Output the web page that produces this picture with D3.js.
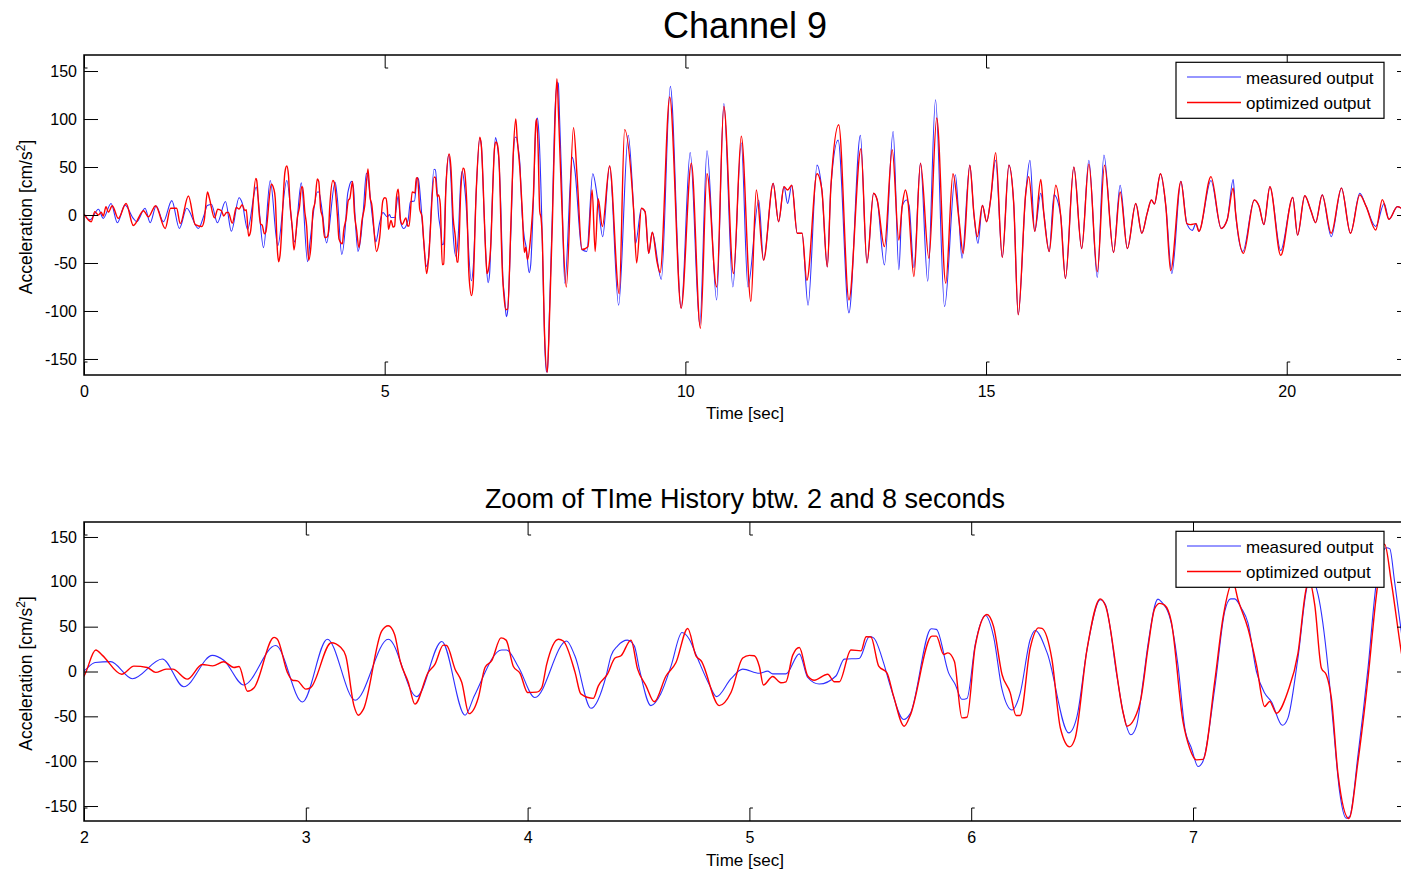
<!DOCTYPE html>
<html><head><meta charset="utf-8">
<script src="https://cdn.jsdelivr.net/npm/d3@7"></script>
<style>
body{margin:0;background:#fff}
text{font-family:"Liberation Sans",Arial,Helvetica,sans-serif;fill:#000}
</style>
</head><body>
<svg id="c" width="1401" height="873"></svg>
<script>
// ---- data: [time (s), acceleration (cm/s^2)] ----
const measured = [
[0,1],[0.1,-5],[0.24,6],[0.32,-3.5],[0.45,12],[0.555,-8],[0.68,10.4],[0.82,-3.5],[0.876,-7],[1.015,7],[1.1,-8],[1.2,9.4],[1.32,-7],[1.46,15],[1.586,-14],[1.708,7],[1.9,-14],
[2.0,0.7],[2.05,10],[2.12,11],[2.218,-8],[2.353,14],[2.45,-17],[2.579,18],[2.63,12.6],[2.72,-15],[2.864,29],[2.985,-34],[3.097,36],[3.222,-32],[3.372,36],[3.5,-28],[3.613,33.5],[3.718,-48.7],[3.76,-27],[3.883,24],[3.905,24],[3.96,4.5],[4.033,-29],[4.176,34],[4.213,17.5],[4.286,-41],[4.354,-5],[4.376,17.5],[4.406,28.6],[4.45,35],[4.481,28.6],[4.504,2.6],[4.556,-38],[4.6,-25],[4.647,6.3],[4.696,43.5],[4.729,36],[4.759,19],[4.82,-15],[4.852,-28],[4.917,-8],[4.97,2.6],[5.045,-2],[5.082,0.4],[5.105,-2.6],[5.165,-2.6],[5.225,19.7],[5.263,-6.7],[5.315,-14],[5.39,-5],[5.428,13.8],[5.495,14.5],[5.541,39],[5.56,37.5],[5.605,9.7],[5.635,-16],[5.696,-53.5],[5.725,-47],[5.82,47.6],[5.843,47],[5.898,-1.5],[5.928,-14.5],[5.958,-31],[5.981,-30],[6.018,30],[6.064,62.5],[6.101,39],[6.139,-20],[6.184,-43],[6.221,-24],[6.266,35.7],[6.289,45.7],[6.342,21],[6.44,-68.4],[6.477,-50],[6.522,24.5],[6.582,80],[6.605,74.7],[6.657,-5],[6.687,-48],[6.72,-70.6],[6.745,-61],[6.775,-11],[6.797,30],[6.842,80.7],[6.857,78],[6.902,54],[6.932,7.4],[6.963,-63],[6.993,-85.5],[7.023,-106],[7.045,-100],[7.098,-18.6],[7.143,67],[7.17,81],[7.188,81],[7.218,70.6],[7.248,54],[7.286,0],[7.323,-24],[7.353,-33.5],[7.403,-60],[7.428,-52],[7.473,15],[7.518,96.7],[7.541,101],[7.564,85.5],[7.609,3.7],[7.631,-56],[7.661,-134],[7.691,-163.6],[7.706,-162],[7.744,-93],[7.789,3.7],[7.827,100],[7.872,138],[7.887,137],[7.909,100],[7.939,44.6],
[7.995,-71],[8.12,60],[8.16,48],[8.28,-36],[8.36,-38],[8.46,43],[8.54,17],[8.625,-22.6],[8.74,51],[8.89,-94],[9.05,83],[9.14,5],[9.17,-30],[9.27,7],[9.33,3.5],[9.39,-40],[9.45,-18],[9.6,-67],[9.75,134],[9.93,-97],[10.08,65],[10.24,-114.6],[10.36,67],[10.52,-88.5],[10.64,116],[10.79,-75],[10.93,75],[11.04,-75],[11.22,15.6],[11.3,-47],[11.46,33],[11.55,-7],[11.64,29.5],[11.7,12],[11.77,31],[11.86,-19],[11.94,-19],[12.04,-94],[12.19,52],[12.27,26],[12.36,-54],[12.42,29.5],[12.54,78],[12.72,-102],[12.91,83],[13.02,-50],[13.13,22.6],[13.19,15.6],[13.31,-52],[13.455,87],[13.55,-57],[13.605,9],[13.676,15.6],[13.72,10],[13.8,-55],[13.91,54],[14.03,-69],[14.16,120],[14.31,-95.5],[14.49,42],[14.55,-5],[14.6,-45],[14.73,52],[14.8,0],[14.865,-29.5],[14.94,10],[15.01,-7],[15.075,15.6],[15.16,57],[15.27,-44],[15.38,52],[15.46,12],[15.535,-104],[15.66,22.6],[15.73,57],[15.81,-17],[15.91,22.6],[15.96,2],[16.05,-38],[16.13,21],[16.24,0],[16.32,-66],[16.46,50],[16.59,-35],[16.71,57],[16.85,-65],[16.96,62.5],[17.12,-39],[17.23,31],[17.35,-35],[17.49,12],[17.59,-19],[17.68,2],[17.75,15.6],[17.8,11.5],[17.9,43],[17.99,9],[18.09,-61],[18.24,35],[18.34,-9],[18.43,-16],[18.49,-9],[18.54,-17],[18.74,36],[18.91,-14],[19.01,-5],[19.11,37],[19.15,2],[19.27,-38],[19.46,15.6],[19.54,9],[19.62,-10],[19.72,29.5],[19.9,-37],[20.1,18.4],[20.18,-21],[20.3,20],[20.4,5],[20.48,-8],[20.59,21],[20.74,-22.6],[20.91,28],[21.06,-19],[21.215,22.6],[21.32,9],[21.48,-12],[21.62,12],[21.7,-4.5],[21.84,8.7],[21.95,5]
];
const optimized = [
[0,1],[0.07,-5],[0.12,-7],[0.18,3.5],[0.24,0],[0.285,3],[0.32,-1],[0.366,8.7],[0.405,3],[0.47,9.7],[0.57,-3.5],[0.7,12],[0.82,-11],[0.99,4.5],[1.07,-2],[1.19,9.7],[1.35,-14],[1.44,7],[1.54,7],[1.6,-9],[1.736,19.8],[1.85,-10],[1.96,-12],
[2.0,-5],[2.053,24],[2.083,18],[2.17,-3],[2.225,6],[2.285,4.5],[2.323,-1],[2.37,2.6],[2.4,2.6],[2.466,-8.5],[2.533,7.8],[2.58,6.3],[2.63,10.8],[2.676,4.5],[2.699,5.6],[2.737,-22],[2.767,-18],[2.857,38],[2.872,36],[2.917,-1],[2.94,-9.7],[2.962,-10.4],[3.0,-19.7],[3.022,-18],[3.115,32],[3.157,27],[3.18,17.5],[3.217,-38],[3.237,-48.7],[3.26,-42],[3.342,45],[3.372,51],[3.4,41.6],[3.425,12],[3.462,-12],[3.492,-36.4],[3.552,-1],[3.582,8],[3.62,29.4],[3.635,29],[3.673,2.6],[3.703,-12],[3.736,-47],[3.778,-29],[3.808,4.5],[3.838,12],[3.88,37.5],[3.903,35],[3.936,5.6],[3.966,-2],[4.0,-23.4],[4.041,-23],[4.064,-17.8],[4.086,8],[4.139,36],[4.161,34],[4.214,-1],[4.24,-25],[4.296,-30],[4.319,-16],[4.36,-3],[4.394,15],[4.421,17.5],[4.466,35],[4.496,2.6],[4.534,-16],[4.571,-33.8],[4.624,-5],[4.669,10],[4.722,48],[4.759,17.5],[4.782,12],[4.864,-38],[4.917,-23.4],[4.97,15],[5.0,18],[5.022,17.5],[5.045,5.6],[5.063,-15],[5.105,-5.6],[5.142,-12.6],[5.165,-11.5],[5.195,18],[5.225,26.8],[5.263,-5],[5.293,-9.7],[5.353,-3],[5.383,-11.5],[5.405,-11.5],[5.458,24],[5.503,23],[5.526,38.7],[5.548,38.5],[5.583,6],[5.62,-1.5],[5.65,-27.5],[5.698,-61],[5.725,-49],[5.823,39.4],[5.843,39.4],[5.876,19],[5.895,20.8],[5.924,11.5],[5.958,-51.7],[5.981,-51],[6.018,28],[6.071,63.6],[6.101,50],[6.139,-3.3],[6.176,-23.8],[6.202,-49],[6.221,-49],[6.266,26],[6.304,48.7],[6.319,48],[6.364,13.4],[6.402,-63],[6.444,-84],[6.469,-74],[6.522,24.5],[6.582,81],[6.605,73.6],[6.687,-48],[6.702,-61],[6.735,-53],[6.767,-28],[6.797,26],[6.827,70],[6.85,76],[6.872,74],[6.902,56],[6.955,-56],[6.985,-85.5],[7.015,-98.5],[7.045,-98],[7.098,-11],[7.135,59.5],[7.18,100],[7.203,80],[7.248,48],[7.286,7.4],[7.323,-39],[7.346,-33.5],[7.376,-46.5],[7.428,-22],[7.473,20],[7.511,93],[7.526,100],[7.549,74],[7.579,3.7],[7.601,-3.7],[7.624,-30],[7.654,-115],[7.703,-164],[7.744,-100],[7.789,-7.4],[7.827,85.5],[7.864,142],[7.894,100],[7.939,22],
[8.02,-75],[8.14,91],[8.2,40],[8.28,-36],[8.38,-33],[8.45,26],[8.5,-38],[8.55,17],[8.62,-12],[8.74,51],[8.9,-82],[8.99,89],[9.14,5],[9.19,-50],[9.27,7],[9.33,3.5],[9.39,-40],[9.45,-18],[9.53,-49],[9.58,-60],[9.74,123],[9.93,-97],[10.1,54],[10.25,-118],[10.36,43],[10.52,-75],[10.64,113],[10.8,-61],[10.93,82],[11.09,-90],[11.18,26],[11.3,-47],[11.46,33],[11.55,-7],[11.64,29.5],[11.7,26],[11.77,31],[11.86,-19],[11.94,-19],[12.02,-68],[12.19,43],[12.27,26],[12.36,-54],[12.42,29.5],[12.55,94],[12.72,-88.5],[12.92,69],[13.02,-50],[13.13,22.6],[13.19,15.6],[13.31,-33],[13.44,68],[13.55,-26],[13.605,9],[13.66,26],[13.7,15],[13.8,-64],[13.91,54],[14.05,-45],[14.18,101],[14.33,-71],[14.45,43],[14.55,-5],[14.62,-40],[14.73,52],[14.8,0],[14.855,-22.6],[14.94,10],[15.01,-7],[15.075,15.6],[15.16,65],[15.27,-44],[15.38,52],[15.46,12],[15.535,-104],[15.66,22.6],[15.71,40],[15.81,-17],[15.91,37],[15.96,2],[16.05,-38],[16.16,31],[16.24,0],[16.32,-66],[16.46,50],[16.59,-35],[16.71,53],[16.85,-59],[16.97,52],[17.12,-39],[17.23,24],[17.35,-35],[17.49,12],[17.59,-19],[17.68,2],[17.75,15.6],[17.8,11.5],[17.9,43],[17.99,9],[18.07,-58],[18.24,35],[18.34,-9],[18.4,-10],[18.49,-9],[18.54,-17],[18.74,40],[18.91,-14],[19.01,-5],[19.11,28],[19.15,2],[19.28,-40],[19.46,15.6],[19.54,9],[19.62,-10],[19.72,29.5],[19.9,-42],[20.1,18.4],[20.18,-21],[20.3,20],[20.4,5],[20.48,-8],[20.59,21],[20.74,-19],[20.91,28],[21.06,-19],[21.215,21],[21.32,9],[21.48,-15.6],[21.59,16],[21.7,-4.5],[21.84,8.7],[21.95,5]
];
const yTicks = [-150,-100,-50,0,50,100,150];
const mainXTicks = [0,5,10,15,20];
const zoomXTicks = [2,3,4,5,6,7];
const seriesNames = ["measured output","optimized output"];
const seriesColors = ["#2f2fff","#ff0000"];
const mainTitle = "Channel 9";
const zoomTitle = "Zoom of TIme History btw. 2 and 8 seconds";
const xLabel = "Time [sec]";

const svg = d3.select("#c");
const L = 84, R = 1407;

function panel(o){
  const x = d3.scaleLinear().domain(o.xDomain).range([L, R]);
  const y = d3.scaleLinear().domain([-166.7,166.7]).range([o.bottom, o.top]);
  const g = svg.append("g");
  const cid = "clip" + o.key;
  g.append("clipPath").attr("id", cid).append("rect")
    .attr("x", L).attr("y", o.top).attr("width", R - L).attr("height", o.bottom - o.top);

  const line = d3.line().x(d => x(d[0])).y(d => y(d[1])).curve(d3.curveMonotoneX);
  const lg = g.append("g").attr("clip-path", `url(#${cid})`);
  [measured, optimized].forEach((s, i) => {
    const lo = d3.bisector(d => d[0]).left(s, o.xDomain[0]);
    const hi = d3.bisector(d => d[0]).right(s, o.xDomain[1]);
    const sub = s.slice(Math.max(0, lo - 1), Math.min(s.length, hi + 1));
    lg.append("path").datum(sub).attr("d", line)
      .attr("fill", "none").attr("stroke", seriesColors[i])
      .attr("stroke-width", i === 0 ? 1.1 : 1.4).attr("stroke-linejoin", "round");
  });

  // left y axis
  const ya = g.append("g").attr("transform", `translate(${L},0)`)
    .call(d3.axisLeft(y).tickValues(yTicks).tickSize(-14).tickPadding(7).tickFormat(d => String(d)));
  ya.select(".domain").remove();
  ya.selectAll("text").attr("font-size", 16).attr("font-family", '"Liberation Sans",Arial,sans-serif');
  ya.selectAll("line").attr("stroke", "#000");
  // right y ticks
  const yr = g.append("g").attr("transform", `translate(${R},0)`)
    .call(d3.axisRight(y).tickValues(yTicks).tickSize(-10).tickFormat(""));
  yr.select(".domain").remove();
  yr.selectAll("line").attr("stroke", "#000");

  // bottom x axis
  const xa = g.append("g").attr("transform", `translate(0,${o.bottom})`)
    .call(d3.axisBottom(x).tickValues(o.xTicks).tickSize(-13).tickPadding(10.5).tickFormat(d => String(d)));
  xa.select(".domain").remove();
  xa.selectAll("text").attr("font-size", 16).attr("font-family", '"Liberation Sans",Arial,sans-serif');
  xa.selectAll("line").attr("stroke", "#000");
  xa.selectAll(".tick").append("line").attr("x1", 0).attr("x2", 3).attr("y1", -13).attr("y2", -13).attr("stroke", "#000");
  // top x ticks
  const xt = g.append("g").attr("transform", `translate(0,${o.top})`)
    .call(d3.axisTop(x).tickValues(o.xTicks).tickSize(-13).tickFormat(""));
  xt.select(".domain").remove();
  xt.selectAll("line").attr("stroke", "#000");
  xt.selectAll(".tick").append("line").attr("x1", 0).attr("x2", 3).attr("y1", 13).attr("y2", 13).attr("stroke", "#000");

  // box
  g.append("rect").attr("x", L).attr("y", o.top).attr("width", R - L).attr("height", o.bottom - o.top)
    .attr("fill", "none").attr("stroke", "#000").attr("stroke-width", 1.5);

  // titles / labels
  g.append("text").attr("x", (L + R) / 2 - 0.5).attr("y", o.titleY).attr("text-anchor", "middle")
    .attr("font-size", o.titleSize).text(o.title);
  g.append("text").attr("x", (L + R) / 2 - 0.5).attr("y", o.xLabelY).attr("text-anchor", "middle")
    .attr("font-size", 17).text(xLabel);
  const yl = g.append("text").attr("text-anchor", "middle").attr("font-size", 17.5)
    .attr("transform", `translate(32,${(o.top + o.bottom) / 2 + 2}) rotate(-90)`);
  yl.append("tspan").text("Acceleration [cm/s");
  yl.append("tspan").attr("font-size", 12).attr("dy", -7).text("2");
  yl.append("tspan").attr("dy", 7).text("]");

  // legend
  const lx = 1176, ly = o.legendTop, lw = 208, lh = 56;
  const leg = g.append("g");
  leg.append("rect").attr("x", lx).attr("y", ly).attr("width", lw).attr("height", lh)
    .attr("fill", "#fff").attr("stroke", "#000").attr("stroke-width", 1.2);
  seriesNames.forEach((n, i) => {
    const yy = ly + 14.7 + i * 25.5;
    leg.append("line").attr("x1", 1187).attr("x2", 1241).attr("y1", yy).attr("y2", yy)
      .attr("stroke", seriesColors[i]).attr("stroke-width", i === 0 ? 1.1 : 1.3);
    leg.append("text").attr("x", 1246).attr("y", yy + 6.5).attr("font-size", 17).text(n);
  });
}

panel({key: "a", xDomain: [0, 22], xTicks: mainXTicks, top: 55, bottom: 375,
       title: mainTitle, titleY: 38, titleSize: 36, xLabelY: 419, legendTop: 62.3});
panel({key: "b", xDomain: [2, 2 + (R - L) / 221.8], xTicks: zoomXTicks, top: 522, bottom: 821,
       title: zoomTitle, titleY: 508, titleSize: 27, xLabelY: 866, legendTop: 531.3});
</script>
</body></html>
